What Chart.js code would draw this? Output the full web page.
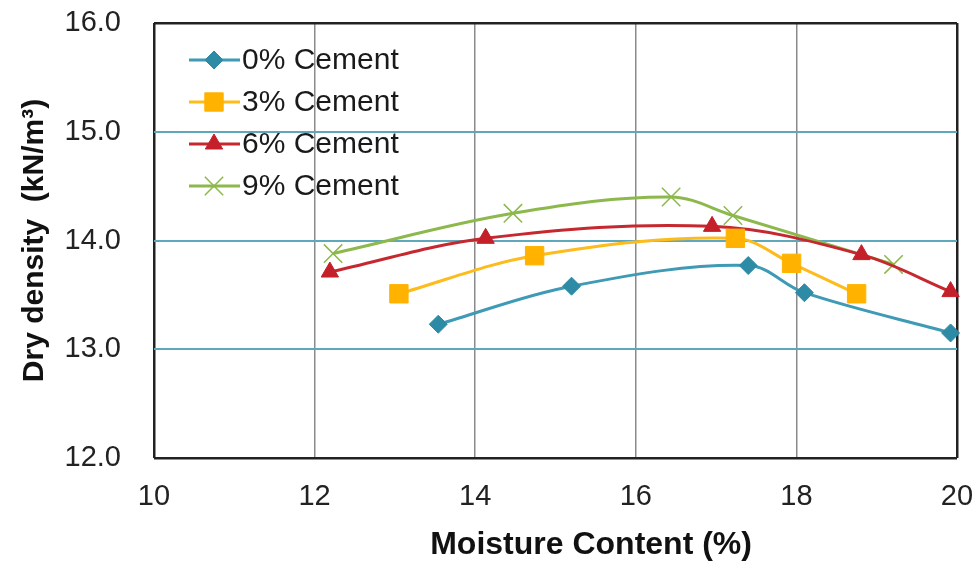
<!DOCTYPE html>
<html>
<head>
<meta charset="utf-8">
<script src="https://cdn.jsdelivr.net/npm/chart.js@4/dist/chart.umd.min.js"></script>
<style>
  html, body { margin: 0; padding: 0; background: #fff; }
  #wrap { width: 977px; height: 564px; }
</style>
</head>
<body>
<div id="wrap"><canvas id="chart" width="977" height="564"></canvas></div>
<script>
const seriesLabels = ["0% Cement", "3% Cement", "6% Cement", "9% Cement"];

const moisture0 = [13.54, 15.20, 17.40, 18.10, 19.92];
const density0 = [13.23, 13.58, 13.77, 13.52, 13.15];

const moisture3 = [13.05, 14.74, 17.24, 17.94, 18.75];
const density3 = [13.51, 13.86, 14.02, 13.79, 13.51];

const moisture6 = [12.19, 14.13, 16.95, 18.81, 19.92];
const density6 = [13.71, 14.02, 14.13, 13.87, 13.53];

const moisture9 = [12.23, 14.47, 16.44, 17.21, 19.21];
const density9 = [13.88, 14.25, 14.40, 14.23, 13.78];

const xTicks = [10, 12, 14, 16, 18, 20];
const yTicks = [12, 13, 14, 15, 16];

const FONT = "'Liberation Sans', Arial, sans-serif";

function toPoints(xs, ys) {
  return xs.map((x, i) => ({ x: x, y: ys[i] }));
}

function makeSet(label, xs, ys, color, markerColor, style, radius, bw) {
  return {
    label: label,
    data: toPoints(xs, ys),
    borderColor: color,
    backgroundColor: markerColor,
    pointBorderColor: markerColor,
    pointBackgroundColor: markerColor,
    pointStyle: style,
    pointRadius: radius,
    pointHoverRadius: radius,
    pointBorderWidth: bw,
    borderWidth: 3,
    tension: 0.35,
    fill: false,
    clip: false
  };
}

// legend drawn inside the plot, Excel-style: short line with marker through it
const insideLegend = {
  id: "insideLegend",
  afterDraw(chart) {
    const ctx = chart.ctx;
    const x0 = 189, x1 = 240, xm = 214, y0 = 60, gap = 42;
    chart.data.datasets.forEach((ds, i) => {
      const y = y0 + i * gap;
      ctx.save();
      ctx.strokeStyle = ds.borderColor;
      ctx.lineWidth = 3;
      ctx.beginPath();
      ctx.moveTo(x0, y);
      ctx.lineTo(x1, y);
      ctx.stroke();
      ctx.fillStyle = ds.pointBackgroundColor;
      ctx.strokeStyle = ds.pointBorderColor;
      ctx.lineWidth = ds.pointBorderWidth;
      Chart.helpers.drawPoint(ctx, { pointStyle: ds.pointStyle, radius: ds.pointRadius, borderWidth: ds.pointBorderWidth }, xm, y);
      ctx.fillStyle = "#1a1a1a";
      ctx.font = "30px " + FONT;
      ctx.textBaseline = "middle";
      ctx.textAlign = "left";
      ctx.fillText(ds.label, 242, y + 1);
      ctx.restore();
    });
  }
};

new Chart(document.getElementById("chart").getContext("2d"), {
  type: "line",
  data: {
    datasets: [
      makeSet(seriesLabels[0], moisture0, density0, "#3f9ab5", "#2e8ba6", "rectRot", 9, 1),
      makeSet(seriesLabels[1], moisture3, density3, "#fdbb1c", "#ffb300", "rect", 13, 1),
      makeSet(seriesLabels[2], moisture6, density6, "#c6282f", "#c3202a", "triangle", 10, 1),
      makeSet(seriesLabels[3], moisture9, density9, "#8cb84c", "#8cb84c", "crossRot", 13, 1.5)
    ]
  },
  options: {
    responsive: false,
    animation: false,
    layout: { padding: { left: 0, right: 20, top: 23, bottom: 0 } },
    plugins: {
      legend: { display: false },
      tooltip: { enabled: false }
    },
    scales: {
      x: {
        type: "linear",
        min: 10,
        max: 20,
        afterBuildTicks: s => { s.ticks = xTicks.map(v => ({ value: v })); },
        afterFit: s => { s.height = 106; s.paddingLeft = 0; s.paddingRight = 0; },
        ticks: {
          padding: 22,
          color: "#222",
          font: { family: FONT, size: 29 },
          maxRotation: 0
        },
        grid: {
          drawTicks: false,
          color: c => (c.tick && (c.tick.value === 10 || c.tick.value === 20)) ? "#222" : "#8a8a8a",
          lineWidth: c => (c.tick && (c.tick.value === 10 || c.tick.value === 20)) ? 2.5 : 1.5
        },
        border: { display: false },
        title: {
          display: true,
          // leading spaces push the title right, as in the original
          text: "        Moisture Content (%)",
          color: "#111",
          font: { family: FONT, size: 32, weight: "bold" },
          padding: { top: 0, bottom: 0 }
        }
      },
      y: {
        type: "linear",
        min: 12,
        max: 16,
        afterBuildTicks: s => { s.ticks = yTicks.map(v => ({ value: v })); },
        afterFit: s => { s.width = 154; s.paddingTop = 0; s.paddingBottom = 0; },
        ticks: {
          padding: 33,
          color: "#222",
          font: { family: FONT, size: 29 },
          callback: v => Number(v).toFixed(1)
        },
        grid: {
          drawTicks: false,
          color: c => (c.tick && (c.tick.value === 12 || c.tick.value === 16)) ? "#222" : "#5fa8bb",
          lineWidth: c => (c.tick && (c.tick.value === 12 || c.tick.value === 16)) ? 2.5 : 2
        },
        border: { display: false },
        title: {
          display: true,
          text: "Dry density  (kN/m³)",
          color: "#111",
          font: { family: FONT, size: 30, weight: "bold" },
          padding: { top: 17, bottom: 0 }
        }
      }
    }
  },
  plugins: [insideLegend]
});
</script>
</body>
</html>
